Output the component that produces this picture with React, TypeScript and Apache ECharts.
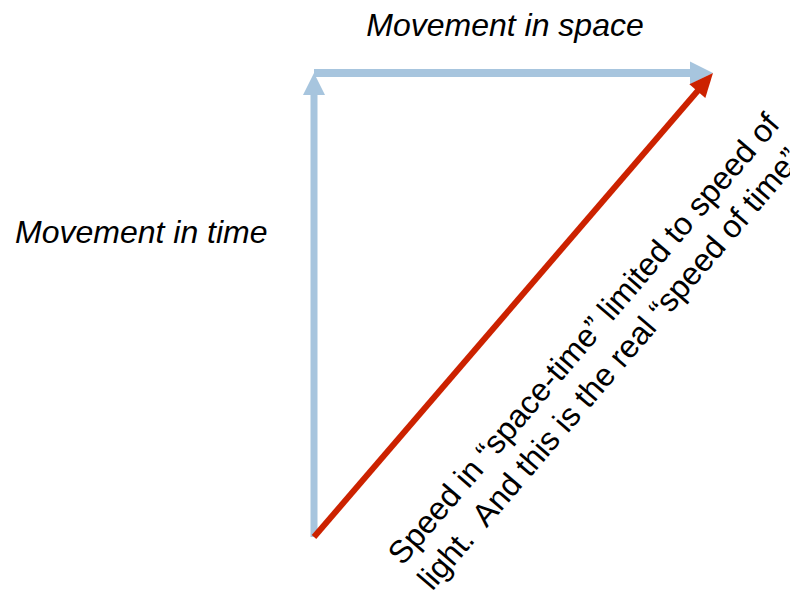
import React, { useEffect, useRef } from "react";
import * as echarts from "echarts";

// Vectors in (space, time) units: start and end points
const vectorNames = ["Movement in time", "Movement in space", "Speed in space-time"];
const startSpace = [0, 0, 0];
const startTime = [0, 1, 0];
const endSpace = [0, 1, 1];
const endTime = [1, 1, 1];

const labelSpace = "Movement in space";
const labelTime = "Movement in time";
const labelSpeed = "Speed in \u201cspace-time\u201d limited to speed of\nlight.  And this is the real \u201cspeed of time\u201d";

const arrowColors = ["#a7c5de", "#a7c5de", "#cc2200"];
const arrowWidths = [7, 8, 6];
const headLens = [22, 23, 24];
const headWids = [22, 23, 21];

const FONT = "'Liberation Sans', Arial, Helvetica, sans-serif";

export default function App() {
  const ref = useRef<HTMLDivElement>(null);
  useEffect(() => {
    if (!ref.current) return;
    const chart = echarts.init(ref.current, undefined, { renderer: "svg" });
    const data = vectorNames.map((n, i) => ({
      name: n,
      value: [startSpace[i], startTime[i], endSpace[i], endTime[i]],
    }));
    chart.setOption({
      animation: false,
      backgroundColor: "#ffffff",
      grid: { left: 314, top: 73, width: 399, height: 464 },
      xAxis: { type: "value", min: 0, max: 1, show: false },
      yAxis: { type: "value", min: 0, max: 1, show: false },
      series: [
        {
          type: "custom",
          clip: false,
          data,
          encode: { x: [0, 2], y: [1, 3] },
          renderItem: (params: any, api: any) => {
            const i = params.dataIndex;
            const p0 = api.coord([api.value(0), api.value(1)]);
            const p1 = api.coord([api.value(2), api.value(3)]);
            const dx = p1[0] - p0[0];
            const dy = p1[1] - p0[1];
            const len = Math.hypot(dx, dy);
            const ux = dx / len;
            const uy = dy / len;
            const hl = headLens[i];
            const hw = headWids[i];
            const bx = p1[0] - ux * hl;
            const by = p1[1] - uy * hl;
            const nx = -uy;
            const ny = ux;
            const color = arrowColors[i];
            return {
              type: "group",
              children: [
                {
                  type: "line",
                  shape: { x1: p0[0], y1: p0[1], x2: bx + ux * 3, y2: by + uy * 3 },
                  style: { stroke: color, lineWidth: arrowWidths[i] },
                },
                {
                  type: "polygon",
                  shape: {
                    points: [
                      [p1[0], p1[1]],
                      [bx + (nx * hw) / 2, by + (ny * hw) / 2],
                      [bx - (nx * hw) / 2, by - (ny * hw) / 2],
                    ],
                  },
                  style: { fill: color },
                },
              ],
            };
          },
        },
      ],
      graphic: [
        {
          type: "text",
          x: 505,
          y: 25,
          style: {
            text: labelSpace,
            font: `italic 32px ${FONT}`,
            fill: "#000000",
            align: "center",
            verticalAlign: "middle",
          },
        },
        {
          type: "text",
          x: 15,
          y: 232,
          style: {
            text: labelTime,
            font: `italic 32px ${FONT}`,
            fill: "#000000",
            align: "left",
            verticalAlign: "middle",
          },
        },
        {
          type: "text",
          x: 409,
          y: 572,
          rotation: (49.4 * Math.PI) / 180,
          style: {
            text: labelSpeed,
            font: `32px ${FONT}`,
            lineHeight: 39,
            fill: "#000000",
            align: "left",
            verticalAlign: "middle",
          },
        },
      ],
    });
    return () => chart.dispose();
  }, []);
  return (
    <div
      ref={ref}
      style={{ position: "fixed", left: 0, top: 0, width: 790, height: 592 }}
    />
  );
}
